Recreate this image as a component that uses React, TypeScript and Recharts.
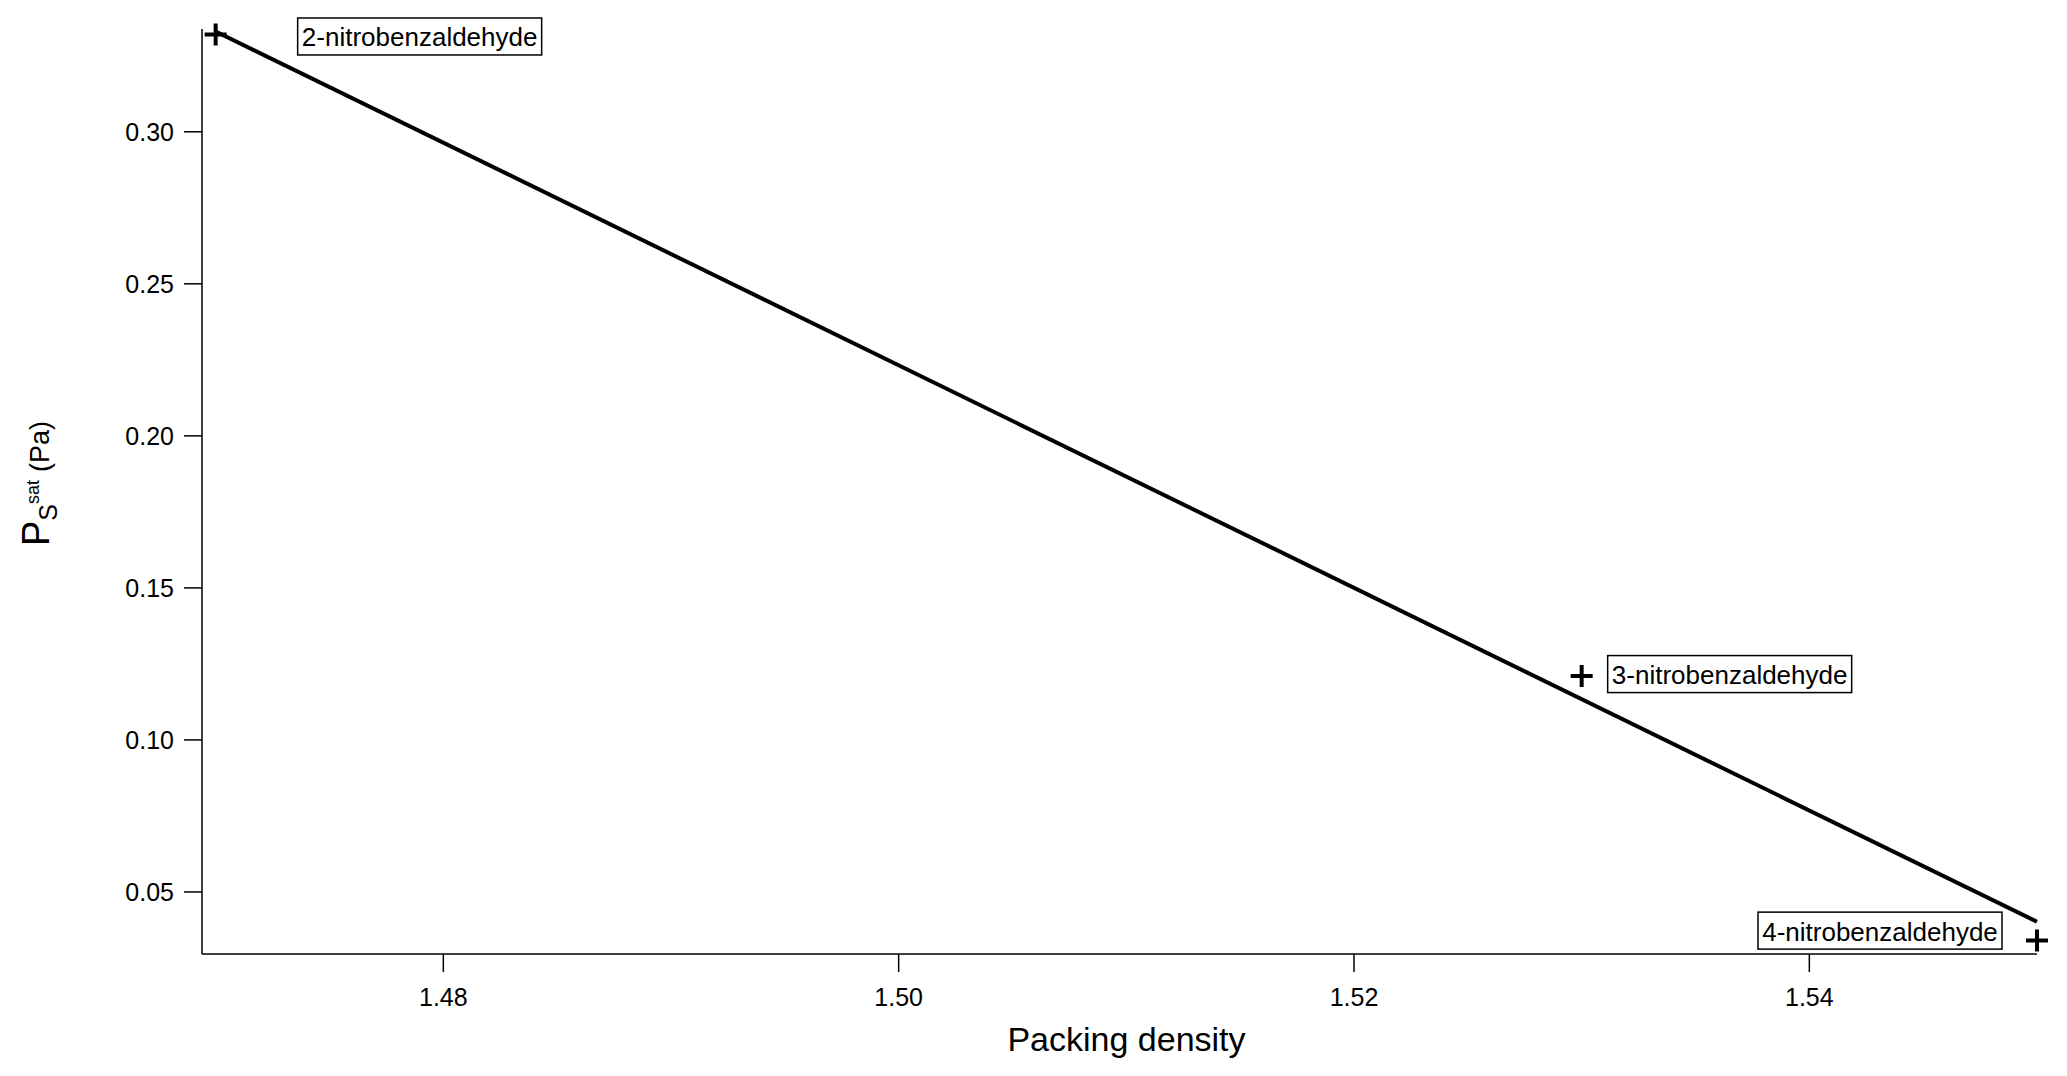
import React from "react";
import { ScatterChart, Scatter, XAxis, YAxis } from "recharts";

const compounds = ["2-nitrobenzaldehyde", "3-nitrobenzaldehyde", "4-nitrobenzaldehyde"];
const packingDensity = [1.47, 1.53, 1.55];
const vaporPressure = [0.332, 0.121, 0.034];

// linear fit drawn through the cloud
const fitDensity = [1.47, 1.55];
const fitPressure = [0.333, 0.0402];

const xTicks = [1.48, 1.5, 1.52, 1.54];
const yTicks = [0.05, 0.1, 0.15, 0.2, 0.25, 0.3];

const FONT = '"Liberation Sans", Arial, Helvetica, sans-serif';
const W = 2067;
const H = 1076;

// where each annotation box sits relative to its marker (box left edge, box centre)
const labelPlacement: Record<string, { dx: number; dy: number }> = {
  "2-nitrobenzaldehyde": { dx: 82, dy: 2 },
  "3-nitrobenzaldehyde": { dx: 26, dy: -2 },
  "4-nitrobenzaldehyde": { dx: -279, dy: -10 },
};
const BOX_W = 244;
const BOX_H = 37;

const points = compounds.map((name, i) => ({ name, x: packingDensity[i], y: vaporPressure[i] }));
const fitLine = fitDensity.map((x, i) => ({ x, y: fitPressure[i] }));

function PlusMarker(props: any) {
  const { cx, cy, payload } = props;
  const s = 11;
  const place = labelPlacement[payload.name];
  const left = cx + place.dx;
  const mid = cy + place.dy;
  return (
    <g>
      <path d={`M${cx - s},${cy}H${cx + s}M${cx},${cy - s}V${cy + s}`} stroke="#000" strokeWidth={4} fill="none" />
      <rect x={left} y={mid - BOX_H / 2} width={BOX_W} height={BOX_H} fill="#fff" stroke="#000" strokeWidth={1.5} />
      <text x={left + BOX_W / 2} y={mid + 1} textAnchor="middle" dominantBaseline="central" fontSize={26} fontFamily={FONT} fill="#000">
        {payload.name}
      </text>
    </g>
  );
}

function YLabel(props: any) {
  const { viewBox } = props;
  const x = 49;
  const y = viewBox.y + viewBox.height / 2 - 8;
  return (
    <text x={x} y={y} transform={`rotate(-90, ${x}, ${y})`} textAnchor="middle" fontFamily={FONT} fill="#000">
      <tspan fontSize={38}>P</tspan>
      <tspan fontSize={25} dy={8}>S</tspan>
      <tspan fontSize={18} dy={-18}>sat</tspan>
      <tspan fontSize={27} dx={8} dy={10}>(Pa)</tspan>
    </text>
  );
}

function XLabel(props: any) {
  const { viewBox } = props;
  return (
    <text x={viewBox.x + viewBox.width / 2 + 7} y={1051} textAnchor="middle" fontSize={34} fontFamily={FONT} fill="#000">
      Packing density
    </text>
  );
}

export default function App() {
  const tick = { fontSize: 25, fontFamily: FONT, fill: "#000" };
  const axisLine = { stroke: "#000", strokeWidth: 1.5 };
  return (
    <div style={{ position: "absolute", left: 0, top: 0, width: W, height: H, background: "#fff" }}>
      <ScatterChart width={W} height={H} margin={{ top: 29, right: 30, left: 0, bottom: 0 }}>
        <XAxis
          type="number"
          dataKey="x"
          domain={[1.4694, 1.55]}
          ticks={xTicks}
          tickFormatter={(v: number) => v.toFixed(2)}
          height={122}
          tickSize={18}
          tickMargin={16}
          tick={tick}
          axisLine={axisLine}
          tickLine={axisLine}
          label={<XLabel />}
        />
        <YAxis
          type="number"
          dataKey="y"
          domain={[0.0296, 0.3338]}
          ticks={yTicks}
          tickFormatter={(v: number) => v.toFixed(2)}
          width={202}
          tickSize={18}
          tickMargin={10}
          tick={tick}
          axisLine={axisLine}
          tickLine={axisLine}
          label={<YLabel />}
        />
        <Scatter data={fitLine} line={{ stroke: "#000", strokeWidth: 4 }} shape={() => <g />} isAnimationActive={false} />
        <Scatter data={points} shape={<PlusMarker />} isAnimationActive={false} />
      </ScatterChart>
    </div>
  );
}
